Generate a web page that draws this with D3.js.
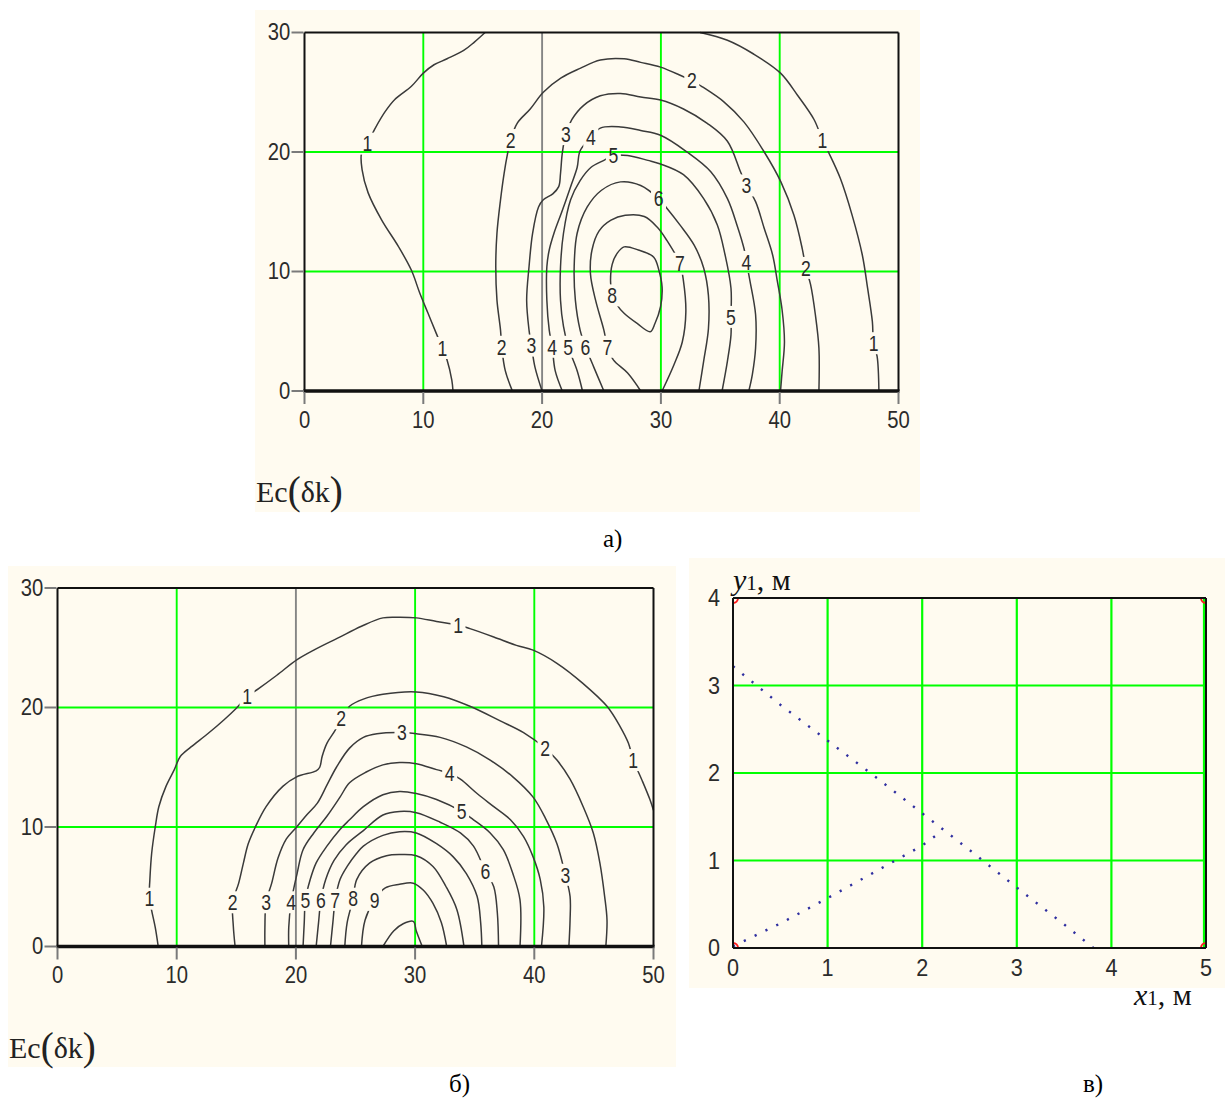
<!DOCTYPE html>
<html>
<head>
<meta charset="utf-8">
<script src="https://cdn.jsdelivr.net/npm/d3@7"></script>
<style>
  body { margin: 0; background: #ffffff; }
  svg { display: block; }
</style>
</head>
<body>
<svg id="fig" width="1225" height="1102"></svg>
<script>
// ---------- axis ticks ----------
const ticksX50 = [0, 10, 20, 30, 40, 50];
const ticksY30 = [0, 10, 20, 30];
const ticksX5 = [0, 1, 2, 3, 4, 5];
const ticksY4 = [0, 1, 2, 3, 4];

// ---------- panel а: contour lines (x, y) ----------
const a1w = [[15.2,30],[14.3,29.2],[13.4,28.5],[12.0,27.8],[10.9,27.3],[10.0,26.6],[9.0,25.5],[7.6,24.4],[6.8,23.4],[5.9,21.9],[5.3,20.7],[4.8,19.9],[4.85,18.5],[5.35,16.6],[6.5,14.3],[7.9,12.1],[9.0,10.1],[9.7,8.2],[10.4,6.5],[11.1,4.8],[11.6,3.6],[12.0,2.6],[12.4,0.9],[12.5,0]];
const a1e = [[33.3,30],[35.6,29.35],[37.8,28.2],[40.07,26.6],[41.5,24.75],[42.9,22.7],[43.6,21.0],[44.1,20.0],[45.1,17.8],[46.1,14.7],[46.95,11.4],[47.4,8.6],[47.8,5.8],[47.9,4.0],[48.2,2.9],[48.35,0]];
const a2 = [[17.5,0],[16.9,1.7],[16.6,3.7],[16.5,5.1],[16.2,7.6],[16.1,10.4],[16.2,13.2],[16.5,16.0],[16.8,18.2],[17.1,19.9],[17.35,21.0],[17.9,22.4],[19.0,23.6],[20.1,25.0],[21.6,26.2],[23.2,27.0],[24.9,27.7],[26.9,27.8],[28.3,27.5],[29.97,27.1],[31.9,26.3],[32.6,26.0],[33.5,25.45],[35.3,24.2],[37.0,22.5],[38.7,20.0],[40.1,17.5],[41.2,14.7],[41.9,11.9],[42.2,10.3],[42.6,8.9],[43.0,6.4],[43.3,3.6],[43.3,0]];
const a3 = [[20.0,0],[19.4,2.0],[19.1,3.8],[18.9,5.1],[18.7,7.6],[18.9,10.4],[19.2,13.2],[19.7,15.4],[20.1,16.0],[20.9,16.5],[21.4,17.1],[21.55,18.2],[21.7,19.9],[22.0,21.5],[22.5,22.7],[23.5,23.9],[24.9,24.7],[26.6,24.9],[28.3,24.6],[29.97,24.35],[31.9,23.6],[33.9,22.4],[35.6,20.9],[36.7,18.35],[37.2,17.2],[37.97,15.85],[38.7,13.6],[39.4,11.4],[39.8,9.2],[40.2,6.8],[40.4,4.1],[40.2,1.6],[40.07,0]];
const a4 = [[21.7,0],[21.1,1.7],[20.85,3.7],[20.6,5.1],[20.4,7.6],[20.4,10.4],[20.6,11.8],[21.0,13.2],[21.7,15.1],[22.4,17.1],[22.95,18.7],[23.2,20.1],[24.1,21.2],[24.9,22.0],[26.6,22.1],[28.3,21.8],[29.97,21.4],[32.2,20.0],[34.2,18.35],[35.6,16.1],[36.4,13.9],[37.0,11.9],[37.2,10.8],[37.5,9.2],[37.97,6.4],[37.97,3.6],[37.7,1.4],[37.4,0]];
const a5 = [[23.4,0],[22.95,1.7],[22.2,3.7],[21.8,5.4],[21.55,7.6],[21.55,10.4],[21.8,13.2],[22.4,16.0],[23.2,17.6],[24.1,18.7],[25.2,19.3],[26.0,19.7],[27.2,19.7],[28.9,19.3],[29.97,19.0],[31.9,18.1],[33.6,16.1],[34.75,13.9],[35.4,11.4],[35.9,8.6],[35.9,6.2],[35.9,4.7],[35.6,2.5],[35.15,0]];
const a6 = [[25.2,0],[24.35,2.0],[23.65,3.7],[23.2,5.1],[22.8,7.6],[22.7,10.4],[22.95,13.2],[23.8,15.4],[25.0,16.8],[26.6,17.5],[28.3,17.2],[29.8,16.1],[30.5,15.3],[31.6,13.9],[32.8,12.2],[33.6,10.3],[34.0,8.0],[34.0,5.2],[33.6,2.5],[33.2,0]];
const a7 = [[28.3,0],[27.2,1.5],[26.0,2.6],[25.5,3.7],[25.2,5.1],[24.5,7.6],[24.07,9.8],[24.2,11.8],[24.8,13.4],[25.8,14.3],[27.0,14.7],[28.6,14.6],[29.7,13.7],[30.5,12.6],[31.6,10.65],[31.9,9.2],[32.1,6.6],[31.8,4.1],[31.1,2.2],[30.1,0]];
const a8 = [[25.9,8.0],[25.76,9.27],[25.9,10.6],[26.3,11.5],[26.9,12.06],[28.1,11.8],[29.4,11.2],[29.83,10.1],[30.1,8.7],[29.97,7.05],[29.5,5.65],[29.1,4.96],[28.0,5.65],[26.9,6.5],[26.3,7.2],[25.9,8.0]];

// ---------- panel б: contour lines (x, y) ----------
const b1 = [[8.45,0],[8.2,1.6],[7.9,3.0],[7.7,4.0],[7.75,5.6],[7.9,7.8],[8.2,10.0],[8.5,11.7],[9.1,13.4],[9.8,14.8],[10.3,15.9],[11.2,16.7],[12.6,17.8],[14.0,19.0],[14.96,19.9],[15.9,20.9],[16.9,21.6],[18.4,22.7],[20.1,24.0],[21.5,24.8],[23.5,25.8],[25.5,26.8],[27.3,27.5],[28.7,27.55],[30.1,27.5],[31.8,27.2],[33.6,26.9],[34.6,26.6],[36.6,25.9],[38.5,25.2],[39.9,24.8],[41.9,23.7],[44.1,22.0],[46.1,20.1],[47.2,18.4],[47.9,17.0],[48.3,15.6],[49.0,14.0],[49.7,12.3],[50,11.4]];
const b2 = [[14.9,0],[14.75,1.7],[14.7,3.7],[15.2,5.3],[15.6,7.0],[16.0,8.6],[16.6,10.0],[17.5,11.7],[18.9,13.4],[20.06,14.2],[21.7,14.7],[22.0,15.0],[22.2,15.9],[22.6,17.0],[23.3,18.1],[23.8,19.1],[24.5,20.1],[25.66,20.7],[27.3,21.1],[30.1,21.3],[32.4,20.9],[34.6,20.1],[37.1,18.9],[39.1,17.9],[40.9,16.6],[41.9,15.6],[43.0,14.0],[44.1,11.7],[44.95,9.5],[45.5,7.0],[45.9,4.2],[46.1,2.2],[46.0,0]];
const b3 = [[17.4,0],[17.4,1.6],[17.5,3.7],[17.97,5.3],[18.5,7.4],[19.2,9.0],[20.06,10.0],[20.9,11.0],[21.8,12.0],[22.6,13.5],[23.4,15.0],[24.5,16.6],[25.66,17.5],[26.8,17.8],[28.9,17.9],[30.1,17.8],[32.1,17.5],[34.3,16.7],[36.3,15.6],[38.2,14.2],[39.9,12.5],[41.0,10.6],[41.9,8.6],[42.6,6.0],[43.0,4.2],[43.0,2.2],[42.9,0]];
const b4 = [[19.4,0],[19.4,1.6],[19.6,3.7],[20.1,6.1],[20.6,8.1],[21.5,9.5],[22.6,10.9],[23.7,12.5],[24.5,13.7],[25.9,14.6],[27.3,15.2],[28.7,15.4],[30.1,15.3],[31.8,14.8],[32.9,14.5],[33.8,14.0],[35.2,12.8],[36.6,11.7],[38.0,10.6],[39.1,9.2],[39.9,7.5],[40.5,5.6],[40.8,3.3],[40.6,0]];
const b5 = [[20.6,0],[20.7,2.0],[20.8,3.9],[21.2,5.6],[21.7,7.0],[22.6,8.4],[23.7,9.8],[24.5,10.6],[25.66,11.7],[27.3,12.7],[28.7,12.97],[30.1,12.8],[31.8,12.3],[33.9,11.3],[34.9,10.6],[36.3,9.5],[37.4,8.1],[38.2,6.1],[38.8,3.9],[38.8,0]];
const b6 = [[21.7,0],[21.9,2.0],[22.1,3.9],[22.5,5.6],[23.2,7.2],[24.2,8.5],[25.66,9.7],[27.3,11.0],[28.7,11.3],[30.1,11.2],[32.1,10.4],[33.8,9.5],[34.9,8.4],[35.9,6.3],[36.6,5.0],[36.9,2.8],[37.0,0]];
const b7 = [[22.9,0],[23.1,2.0],[23.3,3.9],[23.7,5.6],[24.3,6.7],[25.1,7.8],[25.66,8.4],[27.3,9.3],[28.7,9.6],[30.1,9.5],[31.8,8.6],[33.2,7.5],[34.3,6.1],[35.2,4.2],[35.5,2.0],[35.6,0]];
const b8 = [[24.1,0],[24.3,2.0],[24.8,4.0],[25.1,5.6],[26.2,7.0],[27.6,7.6],[28.7,7.7],[30.1,7.6],[31.5,6.7],[32.6,5.0],[33.5,3.1],[34.1,0]];
const b9 = [[25.5,0],[25.8,2.2],[26.6,3.9],[27.5,4.9],[28.7,5.2],[29.85,5.3],[30.7,4.7],[31.5,3.6],[32.2,2.0],[32.65,0]];
const b10 = [[27.3,0],[28.2,1.3],[29.0,1.9],[29.85,2.1],[30.1,1.3],[30.6,0]];

// ---------- panel в: traced point series (x1, y1 in m) ----------
const falling = [[0,3.22],[0.5,2.78],[1,2.37],[1.5,1.96],[2,1.54],[2.5,1.12],[3,0.69],[3.5,0.27],[3.81,0]];
const rising = [[0,0.02],[0.5,0.28],[1,0.57],[1.5,0.87],[2,1.17],[2.2,1.33]];
const cornerMarks = [[0,4],[0,0],[5,4],[5,0]];

// contour tables with the places where the level numbers sit
const contoursA = [
  {level: 1, pts: a1w, at: [[5.3,20.7],[11.6,3.6]]},
  {level: 1, pts: a1e, at: [[43.6,21.0],[47.9,4.0]]},
  {level: 2, pts: a2,  at: [[16.6,3.7],[17.35,21.0],[32.6,26.0],[42.2,10.3]]},
  {level: 3, pts: a3,  at: [[19.1,3.8],[22.0,21.5],[37.2,17.2]]},
  {level: 4, pts: a4,  at: [[20.85,3.7],[24.1,21.2],[37.2,10.8]]},
  {level: 5, pts: a5,  at: [[22.2,3.7],[26.0,19.7],[35.9,6.2]]},
  {level: 6, pts: a6,  at: [[23.65,3.7],[29.8,16.1]]},
  {level: 7, pts: a7,  at: [[25.5,3.7],[31.6,10.65]]},
  {level: 8, pts: a8,  at: [[25.9,8.0]]}
];
const contoursB = [
  {level: 1, pts: b1, at: [[7.7,4.0],[15.9,20.9],[33.6,26.9],[48.3,15.6]]},
  {level: 2, pts: b2, at: [[14.7,3.7],[23.8,19.1],[40.9,16.6]]},
  {level: 3, pts: b3, at: [[17.5,3.7],[28.9,17.9],[42.6,6.0]]},
  {level: 4, pts: b4, at: [[19.6,3.7],[32.9,14.5]]},
  {level: 5, pts: b5, at: [[20.8,3.9],[33.9,11.3]]},
  {level: 6, pts: b6, at: [[22.1,3.9],[35.9,6.3]]},
  {level: 7, pts: b7, at: [[23.3,3.9]]},
  {level: 8, pts: b8, at: [[24.8,4.0]]},
  {level: 9, pts: b9, at: [[26.6,3.9]]},
  {level: 10, pts: b10, at: []}
];

// ---------- drawing ----------
const svg = d3.select('#fig');
const defs = svg.append('defs');
const CREAM = '#fffbf0';
const GREEN = '#00ff00';
const GREY = '#858585';
const INK = '#2b2b2b';
const SANS = "'Liberation Sans', Arial, sans-serif";
const SERIF = "'Liberation Serif', 'Times New Roman', serif";

function narrowText(g, px, py, str, size, sx) {
  return g.append('text')
    .attr('transform', `translate(${px},${py}) scale(${sx},1)`)
    .attr('text-anchor', 'middle')
    .attr('dominant-baseline', 'central')
    .attr('font-family', SANS)
    .attr('font-size', size)
    .attr('fill', INK)
    .text(str);
}

function fnLabel(g, px, py) {
  const t = g.append('text').attr('x', px).attr('y', py)
    .attr('font-family', SERIF).attr('font-size', 30).attr('fill', '#222');
  t.append('tspan').text('Ec');
  t.append('tspan').attr('font-size', 39).attr('dy', 2).text('(');
  t.append('tspan').attr('font-size', 30).attr('dy', -2).text('δk');
  t.append('tspan').attr('font-size', 39).attr('dy', 2).text(')');
}

function contourPanel(o) {
  const g = svg.append('g');
  g.append('rect').attr('x', o.bg[0]).attr('y', o.bg[1])
    .attr('width', o.bg[2]).attr('height', o.bg[3]).attr('fill', CREAM);

  const x = d3.scaleLinear().domain([0, 50]).range([o.x0, o.x1]);
  const y = d3.scaleLinear().domain([0, 30]).range([o.y0, o.y1]);

  // grid: green, the x = 20 line is grey
  g.selectAll('line.vg').data(ticksX50.filter(v => v > 0 && v < 50)).join('line')
    .attr('x1', d => x(d)).attr('x2', d => x(d))
    .attr('y1', y(30)).attr('y2', y(0))
    .attr('stroke', d => d === 20 ? GREY : GREEN).attr('stroke-width', 1.9);
  g.selectAll('line.hg').data(ticksY30.filter(v => v > 0 && v < 30)).join('line')
    .attr('x1', x(0)).attr('x2', x(50))
    .attr('y1', d => y(d)).attr('y2', d => y(d))
    .attr('stroke', GREEN).attr('stroke-width', 1.9);

  // gaps in the contour lines where the level numbers are written
  const maskId = o.id + '-gaps';
  const mask = defs.append('mask').attr('id', maskId)
    .attr('maskUnits', 'userSpaceOnUse')
    .attr('x', 0).attr('y', 0).attr('width', 1225).attr('height', 1102);
  mask.append('rect').attr('x', 0).attr('y', 0).attr('width', 1225).attr('height', 1102).attr('fill', '#fff');
  o.contours.forEach(c => c.at.forEach(p => {
    const w = String(c.level).length * 11 + 4;
    mask.append('rect').attr('x', x(p[0]) - w / 2).attr('y', y(p[1]) - 11)
      .attr('width', w).attr('height', 22).attr('fill', '#000');
  }));

  const line = d3.line().x(d => x(d[0])).y(d => y(d[1]))
    .curve(d3.curveCatmullRom.alpha(0.5));
  g.append('g').attr('mask', `url(#${maskId})`)
    .selectAll('path').data(o.contours).join('path')
    .attr('d', d => line(d.pts))
    .attr('fill', 'none').attr('stroke', '#3a3a3a').attr('stroke-width', 1.5)
    .attr('stroke-linejoin', 'round');

  // level numbers
  const lg = g.append('g');
  o.contours.forEach(c => c.at.forEach(p => {
    narrowText(lg, x(p[0]), y(p[1]), String(c.level), 22, 0.8);
  }));

  // frame
  const frame = g.append('g').attr('stroke', '#111');
  frame.append('line').attr('x1', x(0)).attr('x2', x(50)).attr('y1', y(30)).attr('y2', y(30)).attr('stroke-width', 2);
  frame.append('line').attr('x1', x(0)).attr('x2', x(0)).attr('y1', y(30)).attr('y2', y(0)).attr('stroke-width', 2);
  frame.append('line').attr('x1', x(50)).attr('x2', x(50)).attr('y1', y(30)).attr('y2', y(0)).attr('stroke-width', 2);
  frame.append('line').attr('x1', x(0) - 1).attr('x2', x(50) + 1).attr('y1', y(0)).attr('y2', y(0)).attr('stroke-width', 3.4);

  // ticks
  g.selectAll('line.yt').data(ticksY30).join('line')
    .attr('x1', x(0) - 13).attr('x2', x(0) - 1)
    .attr('y1', d => y(d)).attr('y2', d => y(d))
    .attr('stroke', '#7a7a7a').attr('stroke-width', 2);
  g.selectAll('line.xt').data(ticksX50).join('line')
    .attr('x1', d => x(d)).attr('x2', d => x(d))
    .attr('y1', y(0) + 1).attr('y2', y(0) + 13)
    .attr('stroke', '#7a7a7a').attr('stroke-width', 2);

  // tick labels
  ticksY30.forEach(v => {
    const s = String(v);
    const half = s.length * 5.8;
    narrowText(g, x(0) - 14 - half, y(v), s, 23, 0.88);
  });
  ticksX50.forEach(v => {
    narrowText(g, x(v), y(0) + 29, String(v), 23, 0.88);
  });

  fnLabel(g, o.fx, o.fy);
}

contourPanel({
  id: 'pa', bg: [255, 10, 665, 502],
  x0: 304.5, x1: 898.5, y0: 391, y1: 32.5,
  contours: contoursA, fx: 256, fy: 502
});

contourPanel({
  id: 'pb', bg: [8, 566, 668, 501],
  x0: 57.5, x1: 653.5, y0: 946.5, y1: 588,
  contours: contoursB, fx: 9, fy: 1058
});

// ---------- panel в ----------
(function () {
  const g = svg.append('g');
  g.append('rect').attr('x', 689).attr('y', 558).attr('width', 536).attr('height', 430).attr('fill', CREAM);
  const x = d3.scaleLinear().domain([0, 5]).range([733, 1206]);
  const y = d3.scaleLinear().domain([0, 4]).range([948, 598]);

  g.selectAll('line.vg').data(ticksX5.filter(v => v > 0)).join('line')
    .attr('x1', d => d === 5 ? x(d) - 2 : x(d)).attr('x2', d => d === 5 ? x(d) - 2 : x(d))
    .attr('y1', y(4)).attr('y2', y(0))
    .attr('stroke', GREEN).attr('stroke-width', 2.2);
  g.selectAll('line.hg').data(ticksY4.filter(v => v > 0 && v < 4)).join('line')
    .attr('x1', x(0)).attr('x2', x(5))
    .attr('y1', d => y(d)).attr('y2', d => y(d))
    .attr('stroke', GREEN).attr('stroke-width', 2.2);

  const line = d3.line().x(d => x(d[0])).y(d => y(d[1]));
  [falling, rising].forEach(s => {
    g.append('path').attr('d', line(s))
      .attr('fill', 'none').attr('stroke', '#2f2fa0').attr('stroke-width', 2.4)
      .attr('stroke-dasharray', '2.2 9.8');
  });

  defs.append('clipPath').attr('id', 'pc-clip')
    .append('rect').attr('x', x(0)).attr('y', y(4)).attr('width', x(5) - x(0)).attr('height', y(0) - y(4));
  g.append('g').attr('clip-path', 'url(#pc-clip)')
    .selectAll('circle').data(cornerMarks).join('circle')
    .attr('cx', d => x(d[0])).attr('cy', d => y(d[1])).attr('r', 5)
    .attr('fill', 'none').attr('stroke', '#ff1a1a').attr('stroke-width', 2);

  const frame = g.append('g').attr('stroke', '#111').attr('stroke-width', 2);
  frame.append('line').attr('x1', x(0)).attr('x2', x(5)).attr('y1', y(4)).attr('y2', y(4));
  frame.append('line').attr('x1', x(0)).attr('x2', x(5)).attr('y1', y(0)).attr('y2', y(0));
  frame.append('line').attr('x1', x(0)).attr('x2', x(0)).attr('y1', y(4)).attr('y2', y(0));
  frame.append('line').attr('x1', x(5)).attr('x2', x(5)).attr('y1', y(4)).attr('y2', y(0));

  ticksY4.forEach(v => narrowText(g, x(0) - 19, y(v), String(v), 24, 0.9));
  ticksX5.forEach(v => narrowText(g, x(v), y(0) + 20, String(v), 24, 0.9));

  const yl = g.append('text').attr('x', 733).attr('y', 590)
    .attr('font-family', SERIF).attr('font-size', 30).attr('fill', '#111');
  yl.append('tspan').attr('font-style', 'italic').text('y');
  yl.append('tspan').attr('font-size', 21).text('1');
  yl.append('tspan').text(', м');

  const xl = g.append('text').attr('x', 1134).attr('y', 1005)
    .attr('font-family', SERIF).attr('font-size', 30).attr('fill', '#111');
  xl.append('tspan').attr('font-style', 'italic').text('x');
  xl.append('tspan').attr('font-size', 21).text('1');
  xl.append('tspan').text(', м');
})();

// ---------- captions ----------
const captions = [
  {t: 'а)', x: 603, y: 547},
  {t: 'б)', x: 449, y: 1092},
  {t: 'в)', x: 1083, y: 1092}
];
svg.selectAll('text.cap').data(captions).join('text')
  .attr('x', d => d.x).attr('y', d => d.y)
  .attr('font-family', SERIF).attr('font-size', 25).attr('fill', '#000')
  .text(d => d.t);
</script>
</body>
</html>
